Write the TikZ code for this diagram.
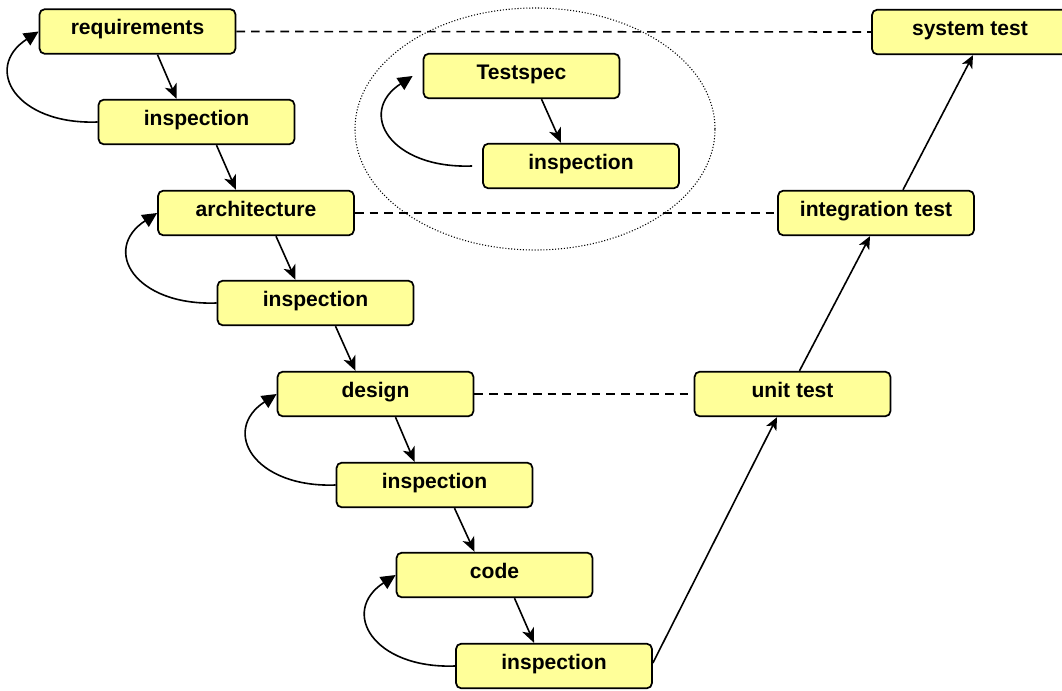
\documentclass[tikz,border=0pt]{standalone}
\usepackage{fontspec}
\setmainfont{Liberation Sans}
\usetikzlibrary{arrows.meta}
\definecolor{boxyellow}{RGB}{255,255,153}

\begin{document}
\begin{tikzpicture}[x=0.75pt, y=-0.75pt,
    phase/.style={draw, line width=1.3pt, fill=boxyellow, rounded corners=4pt,
      minimum width=147pt, minimum height=33.5pt, text height=11pt, text depth=6pt,
      font=\bfseries\fontsize{15.8}{18}\selectfont},
    next/.style={line width=1.2pt, -{Stealth[length=11pt,width=9.5pt,inset=3pt]}},
    back/.style={line width=1.2pt, -{Triangle[length=11pt,width=10.5pt]}},
    up/.style={line width=1.2pt, -{Stealth[length=9.5pt,width=8.5pt,inset=2.5pt]}},
    level/.style={line width=1.2pt, dash pattern=on 6.5pt off 4.5pt}]
  \useasboundingbox (0,0) rectangle (1062,691);
  \draw[line width=0.8pt, dash pattern=on 0.8pt off 1.4pt] (535,129) ellipse [x radius=135pt, y radius=90.75pt];
  % left leg
  \node[phase] (req) at (137.5,31.5) {requirements};
  \node[phase] (insp1) at (196.5,122) {inspection};
  \node[phase] (arch) at (256,213) {architecture};
  \node[phase] (insp2) at (315.5,303) {inspection};
  \node[phase] (design) at (375.5,394) {design};
  \node[phase] (insp3) at (434.5,485) {inspection};
  \node[phase] (code) at (494.5,575) {code};
  \node[phase] (insp4) at (554,666) {inspection};
  % test spec group
  \node[phase] (spec) at (521.5,76) {Testspec};
  \node[phase] (insp5) at (581,166) {inspection};
  % right leg
  \node[phase] (unit) at (792.5,394) {unit test};
  \node[phase] (integ) at (876,213) {integration test};
  \node[phase] (systest) at (970,32) {system test};
  \foreach \a/\b in {req/insp1, insp1/arch, arch/insp2, insp2/design, design/insp3, insp3/code, code/insp4, spec/insp5}
    \draw[next] ([shift={(20,0)}]\a.south) -- ([shift={(-20,0)}]\b.north);
  \foreach \a/\b in {req/insp1, arch/insp2, design/insp3, code/insp4}
    \draw[back] (\b.west) .. controls +(-82,3) and +(-56,36.5) .. (\a.west);
  \draw[back] ([shift={(-10,0)}]insp5.west) .. controls +(-82,3) and +(-56,36.5) .. ([shift={(-10,0)}]spec.west);
  \draw[up] ([shift={(0,-3)}]insp4.east) -- ([shift={(-15.5,0)}]unit.south);
  \draw[up] ([shift={(7,0)}]unit.north) -- ([shift={(-6,0)}]integ.south);
  \draw[up] ([shift={(27,0)}]integ.north) -- ([shift={(3,0)}]systest.south);
  \draw[level] (req.east) -- (systest.west);
  \draw[level] (arch.east) -- (integ.west);
  \draw[level] (design.east) -- (unit.west);
\end{tikzpicture}
\end{document}
